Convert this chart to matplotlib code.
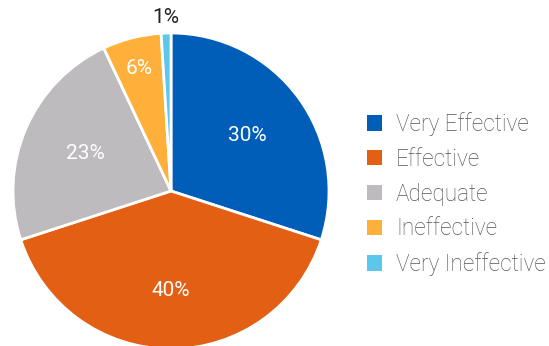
import numpy as np
import matplotlib
matplotlib.use('Agg')
import matplotlib.pyplot as plt

plt.rcParams['font.family'] = ['Roboto', 'DejaVu Sans']

# survey answers
labels = ['Very Effective', 'Effective', 'Adequate', 'Ineffective', 'Very Ineffective']
values = [30, 40, 23, 6, 1]
colors = ['#005EB8', '#E35F14', '#BDBBBD', '#FFB03B', '#5CC7EA']

fig = plt.figure(figsize=(5.49, 3.46), dpi=100)
W, H = 549, 346
cx, cy, r = 171, 191, 158
ax = fig.add_axes([(cx - r) / W, (H - cy - r) / H, 2 * r / W, 2 * r / H])

wedges, _ = ax.pie(values, colors=colors, startangle=90, counterclock=False,
                   wedgeprops=dict(edgecolor='white', linewidth=2))
ax.set_xlim(-1, 1)
ax.set_ylim(-1, 1)
ax.set_aspect('equal')

# label distance from the center, per slice
dist = [0.6, 0.63, 0.59, 0.8, 1.1]
for w, v, d in zip(wedges, values, dist):
    ang = np.deg2rad((w.theta1 + w.theta2) / 2)
    col = '#222222' if d > 1 else 'white'
    ax.text(d * np.cos(ang), d * np.sin(ang), f'{v}%', ha='center', va='center',
            fontsize=15, color=col, clip_on=False)

leg = fig.legend(wedges, labels, loc='center left',
                 bbox_to_anchor=(347 / W, 1 - 194 / H), frameon=False,
                 fontsize=16.3, handlelength=0.66, handleheight=0.66,
                 handletextpad=0.6, labelspacing=0.52)
for t in leg.get_texts():
    t.set_color('#555555')
    t.set_fontweight('light')
for p in leg.get_patches():
    p.set_linewidth(0)

fig.savefig('out.png', dpi=100)
